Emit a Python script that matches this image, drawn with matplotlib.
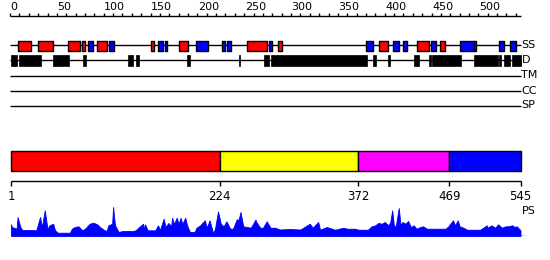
import matplotlib
matplotlib.use('Agg')
import matplotlib.pyplot as plt

# ---------------- data ----------------
seq_len = 545
ruler_minor = list(range(0, 541, 10))
ruler_major = list(range(0, 501, 50))

helix = [(8, 22), (30, 46), (62, 75), (77, 80), (93, 103), (151, 154), (180, 190),
         (253, 274), (286, 290), (394, 404), (434, 447), (459, 464), (495, 498)]
strand = [(83, 89), (106, 111), (158, 163), (165, 168), (199, 211), (226, 230),
          (232, 236), (276, 280), (380, 387), (409, 415), (420, 424), (449, 455),
          (480, 495), (522, 527), (534, 540)]
disorder = [(1, 7), (10, 33), (46, 63), (78, 81), (126, 131), (134, 138), (189, 192),
            (244, 246), (271, 277), (279, 381), (388, 391), (403, 406), (431, 437),
            (447, 449), (450, 481), (495, 521), (522, 524), (527, 534), (536, 545)]
track_names = ['SS', 'D', 'TM', 'CC', 'SP']

domain_bounds = [1, 224, 372, 469, 545]
domain_colors = ['#ff0000', '#ffff00', '#ff00ff', '#0000ff']

prof_pos = [1, 2, 5, 7, 8, 11, 13, 21, 28, 32, 34, 37, 40, 42, 46, 48, 51, 64, 66, 69,
            73, 77, 80, 85, 89, 93, 96, 100, 103, 105, 109, 110, 112, 116, 120, 131, 134,
            142, 143, 144, 147, 155, 158, 160, 164, 166, 169, 172, 173, 175, 178, 180,
            182, 184, 187, 189, 192, 197, 199, 203, 208, 210, 213, 217, 219, 222, 225,
            228, 231, 235, 238, 242, 244, 246, 249, 253, 257, 262, 263, 267, 270, 274,
            278, 283, 288, 299, 310, 320, 323, 329, 331, 338, 347, 356, 360, 368, 372,
            382, 386, 390, 393, 397, 400, 404, 406, 408, 410, 412, 415, 417, 419, 422,
            425, 428, 431, 434, 438, 441, 445, 454, 465, 468, 470, 473, 475, 478, 480,
            484, 488, 502, 509, 510, 514, 518, 521, 525, 529, 532, 536, 539, 541, 545]
prof_val = [11.7, 9, 8, 7.3, 19, 9, 6, 6, 5.7, 19, 9, 25.7, 7, 10.7, 12.3, 5.7, 3.3, 3.3,
            7.3, 9, 9.7, 5.7, 7.3, 12.3, 13.3, 11.7, 9, 6.3, 5, 10.7, 12.3, 29, 10.7, 4,
            5, 5, 5.7, 12.3, 6, 11.7, 5.7, 5.7, 10.7, 6, 17.3, 9, 13, 10, 18.3, 12, 18.3,
            12, 18.3, 12, 18.3, 10.7, 4, 4, 8.3, 10.7, 15.7, 8.3, 15.7, 2.3, 8.3, 24.7,
            12.3, 9.7, 14.7, 7.3, 7.3, 16.7, 16.3, 24, 9.7, 9, 8.3, 16.3, 14, 8.3, 8.3,
            14.7, 8.3, 8.3, 6.5, 7, 6.5, 12.3, 8.3, 14, 6.3, 9, 6.3, 8.3, 7.3, 7.3, 6.3,
            6.3, 9.7, 10.7, 13, 12.3, 14, 10.7, 14, 25.7, 9, 10.7, 28, 10.7, 14, 12.3,
            15, 9, 10.7, 7.3, 9, 9.7, 7.3, 7.3, 7.3, 9.7, 12.3, 15.7, 10.7, 15.7, 9.7,
            8.3, 6.3, 6.3, 10.7, 8.3, 10.7, 8.3, 11.7, 8.3, 9.7, 9.7, 10.7, 9, 9.7, 5.7]

# ---------------- layout ----------------
W, H = 550, 260
k = 509.5 / 544.0           # pixels per residue
x0 = 1 - 11 / k
x1 = 1 + (W - 11) / k

fig = plt.figure(figsize=(W / 100, H / 100), dpi=100)
ax = fig.add_axes([0, 0, 1, 1])
ax.set_xlim(x0, x1)
ax.set_ylim(H, 0)
ax.axis('off')

lw = 1.0
fs_small = 8
# top ruler
ax.hlines(15.5, 0, seq_len, color='black', lw=lw)
ax.vlines(ruler_minor, 12.5, 15.5, color='black', lw=lw)
for t in ruler_major:
    ax.text(t + 0.5, 10.5, str(t), ha='left', va='baseline', fontsize=fs_small, color='black')

# tracks
track_y = {'SS': 45, 'D': 60, 'TM': 75.5, 'CC': 90.5, 'SP': 105.5}
for name in track_names:
    y = track_y[name]
    ax.hlines(y, 0, seq_len, color='black', lw=lw, zorder=1)
    ax.text(seq_len + 1, y, name, ha='left', va='center', fontsize=fs_small, color='black')

ax.broken_barh([(s, e - s) for s, e in helix], (40.5, 10), facecolor='#ff0000',
               edgecolor='black', lw=lw, zorder=2)
ax.broken_barh([(s, e - s) for s, e in strand], (40.5, 10), facecolor='#0000ff',
               edgecolor='black', lw=lw, zorder=2)
ax.broken_barh([(s, e - s) for s, e in disorder], (54.5, 11), facecolor='black',
               edgecolor='black', lw=0.5, zorder=2)

# domain bar
ax.broken_barh([(domain_bounds[i], domain_bounds[i + 1] - domain_bounds[i])
                for i in range(len(domain_colors))], (150.5, 20),
               facecolors=domain_colors, edgecolor='black', lw=lw, zorder=2)

# bottom ruler
ax.hlines(180.5, domain_bounds[0], domain_bounds[-1], color='black', lw=lw)
ax.vlines(domain_bounds, 180.5, 185.5, color='black', lw=lw)
for b in domain_bounds:
    ax.text(b, 200, str(b), ha='center', va='baseline', fontsize=8.5, color='black')
ax.text(seq_len + 1, 211, 'PS', ha='left', va='center', fontsize=fs_small, color='black')

# profile
pax = fig.add_axes([0, (H - 236) / H, 1, 31 / H])
pax.set_xlim(x0, x1)
pax.set_ylim(0, 31)
pax.axis('off')
pax.fill_between(prof_pos, 0, prof_val, color='#0000ff', lw=0.6, edgecolor='#0000ff')
pax.hlines(0.3, prof_pos[0], seq_len + 5, color='#0000ff', lw=1)

fig.savefig('out.png', dpi=100)
